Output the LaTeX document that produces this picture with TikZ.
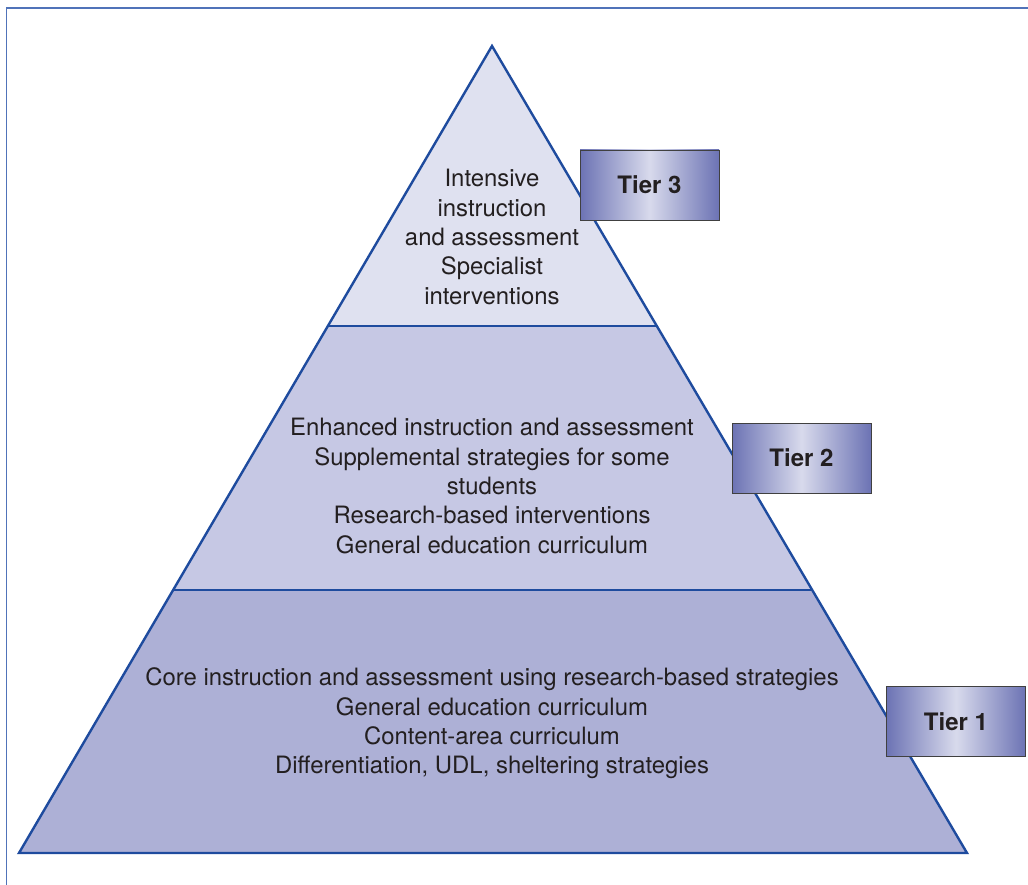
\documentclass[tikz,border=0pt]{standalone}
\usepackage{fontspec}
\setmainfont{TeX Gyre Heros}
\usetikzlibrary{calc,positioning}

\definecolor{pyrline}{RGB}{30,75,158}
\definecolor{framecol}{RGB}{80,115,185}
\definecolor{tierthree}{RGB}{223,225,240}
\definecolor{tiertwo}{RGB}{198,200,228}
\definecolor{tierone}{RGB}{173,176,214}
\definecolor{boxdark}{RGB}{108,115,180}
\definecolor{boxlight}{RGB}{216,218,236}
\definecolor{txt}{RGB}{35,31,32}

\begin{document}
\begin{tikzpicture}[x=1pt,y=-1pt,
  tierbox/.style={draw=black!75,line width=0.9pt,minimum width=139pt,minimum height=70pt,
    left color=boxdark,right color=boxdark,middle color=boxlight,
    font=\bfseries\fontsize{24}{28}\selectfont,text=txt},
  tiertext/.style={align=center,font=\fontsize{23.9}{29.4}\selectfont,text=txt}]
\useasboundingbox (0,0) rectangle (1028,885);

% frame
\draw[framecol,line width=1.5pt] (6.5,885) -- (6.5,8) -- (1028,8);

% pyramid corners
\coordinate (A) at (492,46);
\coordinate (L) at (19,853);
\coordinate (R) at (967,853);
\coordinate (L3) at ($(A)!0.347!(L)$);
\coordinate (R3) at ($(A)!0.347!(R)$);
\coordinate (L2) at ($(A)!0.674!(L)$);
\coordinate (R2) at ($(A)!0.674!(R)$);

\fill[tierthree] (A) -- (L3) -- (R3) -- cycle;
\fill[tiertwo] (L3) -- (L2) -- (R2) -- (R3) -- cycle;
\fill[tierone] (L2) -- (L) -- (R) -- (R2) -- cycle;

\draw[pyrline,line width=2.4pt,line join=miter] (A) -- (L) -- (R) -- cycle;
\draw[pyrline,line width=2.4pt] (L3) -- (R3);
\draw[pyrline,line width=2.4pt] (L2) -- (R2);

\path (492,237) node[tiertext] (T3) {Intensive\\instruction\\and assessment\\Specialist\\interventions};
\path (492,486) node[tiertext] (T2) {Enhanced instruction and assessment\\Supplemental strategies for some\\students\\Research-based interventions\\General education curriculum};
\path (492,723.5) node[tiertext] (T1) {Core instruction and assessment using research-based strategies\\General education curriculum\\Content-area curriculum\\Differentiation, UDL, sheltering strategies};

\path (649.5,185) node[tierbox] (B3) {Tier 3};
\path (801.5,458) node[tierbox] (B2) {Tier 2};
\path (956,721.5) node[tierbox] (B1) {Tier 1};
\end{tikzpicture}
\end{document}
